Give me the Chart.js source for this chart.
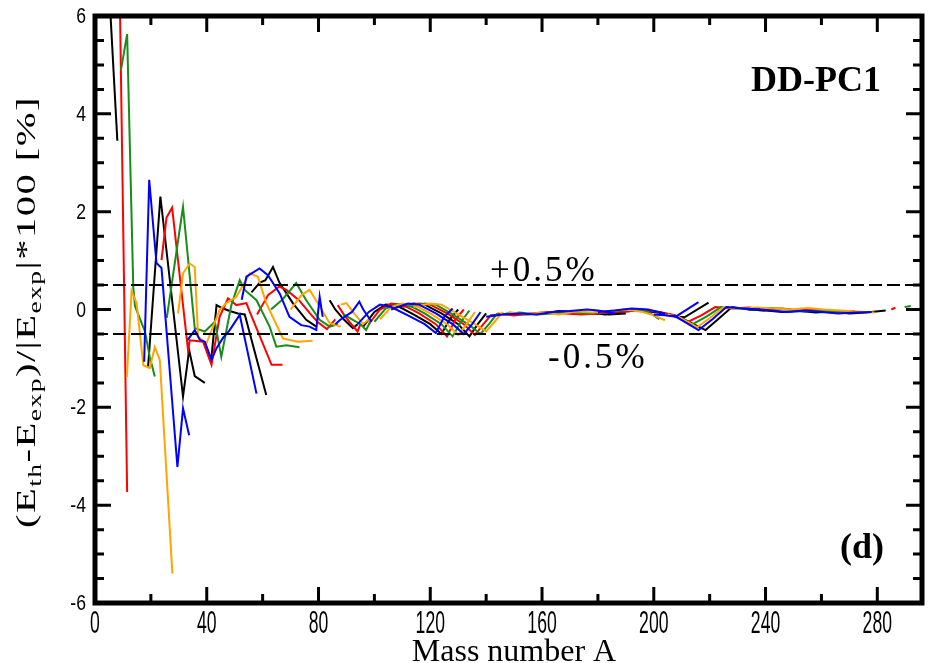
<!DOCTYPE html>
<html>
<head>
<meta charset="utf-8">
<title>DD-PC1 binding energy deviations</title>
<script src="https://cdn.jsdelivr.net/npm/chart.js@4.4.0/dist/chart.umd.min.js"></script>
<style>
    html, body { margin: 0; padding: 0; background: #ffffff; }
    #chart_wrap { width: 934px; height: 663px; }
</style>
</head>
<body>
<div id="chart_wrap"><canvas id="dev_chart" width="934" height="663"></canvas></div>
<script>
// axis ranges and tick positions
const x_range = [0, 296];
const y_range = [-6, 6];
const x_ticks_major = [0, 40, 80, 120, 160, 200, 240, 280];
const x_ticks_minor = [20, 60, 100, 140, 180, 220, 260];
const y_ticks_major = [-6, -4, -2, 0, 2, 4, 6];
const y_ticks_minor = [-5.5, -5, -4.5, -3.5, -3, -2.5, -1.5, -1, -0.5, 0.5, 1, 1.5, 2.5, 3, 3.5, 4.5, 5, 5.5];
const band_levels = [0.5, -0.5];

// isotopic chains, points are [mass number A, deviation in %]
const chains_black = [
    [[5, 6.6], [8, 3.45]],
    [[19.0, -1.17], [23.4, 2.31], [31.5, -1.78], [33.7, -0.83], [35.7, -1.36], [39.3, -1.5]],
    [[41.7, -0.97], [43.5, 0.09], [45.8, 0.02], [48.8, -0.04], [51.2, -0.08], [53.6, -0.1], [61.3, -1.75]],
    [[56, 0.35], [59, 0.55], [61, 0.6], [63.7, 0.87], [66, 0.55], [70.8, 0.13], [75.6, -0.21], [79.2, -0.35]],
    [[84, 0.19], [86, 0.0], [89, -0.2], [92.3, -0.38], [94, -0.3]],
    [[96, -0.35], [100, -0.05], [104, 0.1], [108, 0.08], [114, -0.1], [120, -0.3], [124, -0.5], [127, -0.2], [130, 0.0]],
    [[108, 0.05], [114, 0.12], [118, 0.1], [124, -0.08], [130, -0.3], [134, -0.55], [137, -0.3], [140, -0.08]],
    [[142, -0.12], [148, -0.08], [154, -0.1], [160, -0.08], [166, -0.03], [172, -0.05], [178, -0.08], [184, -0.1], [190, -0.08]],
    [[182, -0.1], [188, -0.05], [194, -0.02], [200, -0.05], [206, -0.1]],
    [[202, -0.1], [206, -0.12], [210, -0.18], [218.5, -0.42], [223, -0.2], [228, 0.05], [234, 0.0], [240, -0.02]],
    [[209, -0.15], [211, -0.16], [219.6, 0.14]],
    [[234, 0.0], [240, -0.02], [246, -0.05], [252, -0.03], [258, -0.06], [264, -0.04], [270, -0.08], [276, -0.06], [283, -0.02]],
];

const chains_red = [
    [[8.9, 6.3], [11.5, -3.73]],
    [[23.8, 1.01], [25.6, 1.88], [27.6, 2.08], [33.3, -0.83], [33.9, -0.63], [38.7, -0.66], [41.7, -1.13], [44.6, -0.15], [47.6, 0.23], [50.6, 0.09], [54.2, 0.13], [55.4, -0.05], [63.2, -1.13], [67.1, -1.13]],
    [[58, -0.1], [62, 0.3], [66, 0.47], [68.5, 0.4], [73, 0.19], [76.8, -0.07], [79.6, -0.25], [83, -0.4], [86, -0.2]],
    [[86.9, 0.09], [89, -0.1], [91, -0.25], [94, -0.45], [95, -0.3]],
    [[98, -0.3], [102, 0.0], [106, 0.12], [110, 0.1], [116, -0.08], [122, -0.3], [126, -0.55], [129, -0.2], [132, 0.0]],
    [[110, 0.05], [116, 0.12], [120, 0.1], [126, -0.08], [132, -0.3], [136, -0.52], [139, -0.3], [142, -0.1]],
    [[144, -0.08], [150, -0.12], [156, -0.08], [162, -0.05], [168, -0.08], [174, -0.1], [180, -0.08], [186, -0.05], [192, -0.03]],
    [[184, -0.05], [190, -0.02], [196, 0.0], [202, -0.05], [208, -0.12]],
    [[203, -0.08], [207, -0.12], [212, -0.26], [217, -0.12], [222, 0.05], [228, 0.02]],
    [[228, 0.02], [234, 0.04], [240, 0.0], [246, 0.02], [252, -0.02], [258, 0.0], [264, -0.03], [270, -0.05]],
    [[285, 0.0], [286.5, 0.04]],
];

const chains_green = [
    [[9.3, 4.9], [11.5, 5.63], [13.7, 0.46], [14.3, 0.07], [17.9, -0.45], [19.6, -0.97], [21.4, -1.37]],
    [[25.7, -0.17], [31.5, 2.1], [35.7, -0.38], [39.3, -0.45], [42.9, -0.25], [45.2, -0.97], [48.8, 0.09], [51.8, 0.6], [53.6, 0.4], [57.8, 0.19], [62.5, -0.35], [64.9, -0.76], [68.5, -0.73], [73.2, -0.77]],
    [[63, 0.0], [67, 0.2], [70, 0.4], [72, 0.54], [75.6, 0.19], [80.4, -0.21], [84, -0.35], [87, -0.3]],
    [[89, -0.1], [92, -0.2], [95, -0.3], [97, -0.42], [99, -0.2]],
    [[100, -0.25], [104, 0.02], [108, 0.1], [112, 0.1], [118, -0.08], [124, -0.3], [128, -0.55], [131, -0.25], [134, -0.02]],
    [[112, 0.05], [118, 0.12], [122, 0.1], [128, -0.1], [134, -0.32], [138, -0.5], [141, -0.3], [144, -0.08]],
    [[146, -0.1], [152, -0.06], [158, -0.1], [164, -0.08], [170, -0.05], [176, -0.08], [182, -0.05], [188, -0.02], [194, 0.0], [198, -0.05], [202, -0.2]],
    [[204, -0.1], [208, -0.14], [213.6, -0.31], [219, -0.14], [224, 0.05], [230, 0.02]],
    [[230, 0.02], [236, 0.0], [242, 0.03], [248, 0.0], [254, -0.04], [260, -0.02], [266, -0.05], [272, -0.03]],
    [[289.8, 0.05], [292, 0.07]],
];

const chains_blue = [
    [[17.6, -1.07], [19.4, 2.65], [22.0, 0.95], [23.8, 0.85], [29.5, -3.22], [31.5, -2.02], [33.7, -2.57]],
    [[33.2, -0.62], [35.7, -0.42], [37.5, -0.62], [39.3, -0.66], [41.7, -1.03], [43.5, -0.79], [45.8, -0.58], [48.2, -0.42], [51.8, -0.11], [57.8, -1.72]],
    [[52.5, 0.2], [54.2, 0.67], [58.9, 0.84], [61.9, 0.7], [66.1, 0.33], [69.6, -0.15], [73.8, -0.32], [76.8, -0.35], [79.2, -0.42], [80.4, 0.26], [81.5, -0.15]],
    [[86, -0.3], [88, -0.2], [92, -0.05], [94.6, 0.16], [96, 0.0], [99, -0.25]],
    [[94, -0.3], [98, -0.05], [102, 0.1], [106, 0.05], [112, -0.12], [118, -0.3], [122, -0.48], [125, -0.15], [128, 0.02]],
    [[106, 0.0], [112, 0.12], [116, 0.1], [122, -0.08], [128, -0.3], [132, -0.5], [135, -0.3], [138, -0.05]],
    [[140, -0.15], [146, -0.1], [152, -0.08], [158, -0.1], [164, -0.05], [170, -0.03], [176, 0.0], [180, -0.02], [186, -0.08]],
    [[180, -0.05], [186, -0.02], [192, 0.02], [198, 0.0], [204, -0.08]],
    [[200, -0.1], [204, -0.12], [208, -0.15], [216, -0.42], [221, -0.2], [226, 0.05], [232, 0.02], [238, 0.0]],
    [[206, -0.12], [208, -0.14], [216, 0.15]],
    [[232, 0.02], [238, 0.0], [244, -0.03], [248, -0.05], [254, -0.02], [260, -0.05], [266, -0.08], [272, -0.06], [278, -0.05]],
];

const chains_orange = [
    [[11.4, -1.38], [13.1, 0.38], [14.9, 0.13], [17.3, -1.14], [19.6, -1.2], [21.4, -0.77], [23.2, -1.03], [27.7, -5.4]],
    [[29.75, -0.08], [31.5, 0.74], [33.9, 0.94], [35.7, 0.87], [36.9, -0.56], [39.9, -0.69], [44.6, -0.01], [47.0, 0.13], [50.6, 0.26], [55.4, 0.74], [58.3, 0.67], [61.3, 0.13], [67.25, -0.59], [72.6, -0.66], [77.9, -0.64]],
    [[70, 0.0], [74, 0.3], [76.8, 0.4], [79, 0.2], [84, -0.28], [88, -0.35]],
    [[88, 0.1], [90, 0.13], [93, -0.1], [96, -0.3], [98, -0.2]],
    [[102, -0.2], [106, 0.05], [110, 0.12], [114, 0.1], [120, -0.08], [126, -0.3], [130, -0.52], [133, -0.3], [136, -0.05]],
    [[114, 0.05], [120, 0.12], [124, 0.1], [130, -0.1], [136, -0.3], [140, -0.45], [143, -0.25], [146, -0.05]],
    [[148, -0.05], [154, -0.1], [160, -0.06], [166, -0.1], [172, -0.04], [178, -0.06], [184, -0.03], [190, 0.0], [196, -0.05], [200, -0.12], [204, -0.22]],
    [[205, -0.1], [209, -0.15], [215.5, -0.36], [220, -0.18], [225, 0.05], [231, 0.02]],
    [[231, 0.02], [237, 0.04], [243, 0.02], [249, 0.0], [255, 0.03], [261, 0.0], [267, -0.02], [273, -0.04], [279, -0.06]],
];

const chain_palette = {
    black: '#000000',
    red: '#ff0000',
    green: '#1a8c1a',
    blue: '#0000ff',
    orange: '#ffa500',
};

const serif_font = '"Liberation Serif", "Times New Roman", serif';
const sans_font = '"Liberation Sans", Arial, sans-serif';

function chain_dataset(points, color) {
    return {
        data: points.map(function (p) { return { x: p[0], y: p[1] }; }),
        showLine: true,
        borderColor: color,
        backgroundColor: color,
        borderWidth: 2,
        pointRadius: 0,
        tension: 0,
        fill: false,
    };
}

function band_dataset(level) {
    return {
        data: [{ x: x_range[0], y: level }, { x: x_range[1], y: level }],
        showLine: true,
        borderColor: '#000000',
        borderWidth: 2,
        borderDash: [13, 5],
        pointRadius: 0,
        tension: 0,
        fill: false,
    };
}

const datasets = [];
band_levels.forEach(function (lv) { datasets.push(band_dataset(lv)); });
[
    [chains_blue, chain_palette.blue],
    [chains_orange, chain_palette.orange],
    [chains_green, chain_palette.green],
    [chains_red, chain_palette.red],
    [chains_black, chain_palette.black],
].forEach(function (group) {
    group[0].forEach(function (chain) { datasets.push(chain_dataset(chain, group[1])); });
});

// text drawn with a horizontal squeeze, like the narrow axis digits
function draw_squeezed(ctx, text, x, y, squeeze) {
    ctx.save();
    ctx.translate(x, y);
    ctx.scale(squeeze, 1);
    ctx.fillText(text, 0, 0);
    ctx.restore();
}

// y title with subscripts, spread along its length
function draw_y_title(ctx, cx, cy, length) {
    const parts = [
        ['(E', 0], ['th', 1], ['-E', 0], ['exp', 1], [')/|E', 0], ['exp', 1], ['|*100 [%]', 0],
    ];
    const main_font = '28px ' + serif_font;
    const sub_font = '19px ' + serif_font;

    ctx.save();
    ctx.letterSpacing = '1px';
    let total = 0;
    parts.forEach(function (p) {
        ctx.font = p[1] ? sub_font : main_font;
        total += ctx.measureText(p[0]).width;
    });
    const stretch = length / total;

    ctx.translate(cx, cy);
    ctx.rotate(-Math.PI / 2);
    ctx.scale(stretch, 1);
    ctx.fillStyle = '#000000';
    ctx.textBaseline = 'alphabetic';
    ctx.textAlign = 'left';
    let pos = -total / 2;
    parts.forEach(function (p) {
        ctx.font = p[1] ? sub_font : main_font;
        ctx.fillText(p[0], pos, p[1] ? 15 : 9);
        pos += ctx.measureText(p[0]).width;
    });
    ctx.restore();
}

const frame_plugin = {
    id: 'frame_plugin',
    afterDraw: function (chart) {
        const ctx = chart.ctx;
        const area = chart.chartArea;
        const xs = chart.scales.x;
        const ys = chart.scales.y;

        ctx.save();
        ctx.strokeStyle = '#000000';
        ctx.fillStyle = '#000000';
        ctx.lineWidth = 3;

        function x_mark(v, len) {
            const px = xs.getPixelForValue(v);
            ctx.beginPath();
            ctx.moveTo(px, area.bottom);
            ctx.lineTo(px, area.bottom - len);
            ctx.moveTo(px, area.top);
            ctx.lineTo(px, area.top + len);
            ctx.stroke();
        }
        function y_mark(v, len) {
            const py = ys.getPixelForValue(v);
            ctx.beginPath();
            ctx.moveTo(area.left, py);
            ctx.lineTo(area.left + len, py);
            ctx.moveTo(area.right, py);
            ctx.lineTo(area.right - len, py);
            ctx.stroke();
        }
        x_ticks_major.forEach(function (v) { x_mark(v, 16); });
        x_ticks_minor.forEach(function (v) { x_mark(v, 9); });
        y_ticks_major.forEach(function (v) { y_mark(v, 16); });
        y_ticks_minor.forEach(function (v) { y_mark(v, 9); });

        ctx.lineWidth = 5;
        ctx.strokeRect(area.left, area.top, area.right - area.left, area.bottom - area.top);

        // tick labels
        ctx.font = '32px ' + sans_font;
        ctx.textAlign = 'center';
        ctx.textBaseline = 'top';
        x_ticks_major.forEach(function (v) {
            draw_squeezed(ctx, String(v), xs.getPixelForValue(v), area.bottom + 5, 0.55);
        });
        ctx.font = '22px ' + sans_font;
        ctx.textAlign = 'right';
        ctx.textBaseline = 'middle';
        y_ticks_major.forEach(function (v) {
            draw_squeezed(ctx, String(v), area.left - 9, ys.getPixelForValue(v) + 1, 0.8);
        });

        // axis titles
        ctx.font = '32px ' + serif_font;
        ctx.textAlign = 'center';
        ctx.textBaseline = 'alphabetic';
        ctx.fillText('Mass number A', 514, 661);
        draw_y_title(ctx, 26, 312, 432);

        // band labels and panel marks
        ctx.textAlign = 'left';
        ctx.font = '35px ' + serif_font;
        ctx.letterSpacing = '3px';
        ctx.fillText('+0.5%', 490, 281);
        ctx.fillText('-0.5%', 548, 368);
        ctx.letterSpacing = '0px';
        ctx.font = 'bold 36px ' + serif_font;
        ctx.fillText('DD-PC1', 751, 91);
        ctx.fillText('(d)', 840, 558);
        ctx.restore();
    },
};

new Chart(document.getElementById('dev_chart').getContext('2d'), {
    type: 'scatter',
    data: { datasets: datasets },
    options: {
        responsive: false,
        animation: false,
        events: [],
        layout: { padding: { left: 95, right: 12, top: 16, bottom: 60 } },
        plugins: {
            legend: { display: false },
            tooltip: { enabled: false },
        },
        scales: {
            x: { type: 'linear', min: x_range[0], max: x_range[1], display: false },
            y: { type: 'linear', min: y_range[0], max: y_range[1], display: false },
        },
    },
    plugins: [frame_plugin],
});
</script>
</body>
</html>
